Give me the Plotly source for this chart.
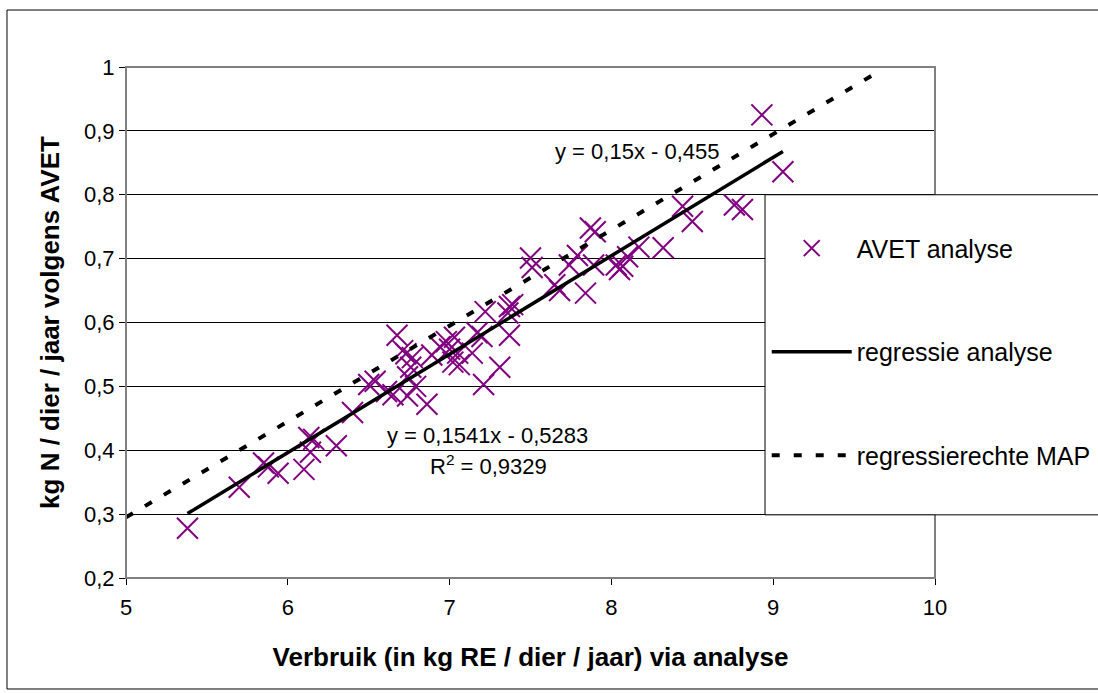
import plotly.graph_objects as go

# ---- data ----
x_avet = [5.38, 5.70, 5.85, 5.88, 5.94, 6.10, 6.13, 6.16, 6.14, 6.30, 6.40, 6.50, 6.54,
          6.61, 6.65, 6.675, 6.71, 6.73, 6.77, 6.76, 6.74, 6.79, 6.74, 6.86, 6.89, 6.94,
          6.98, 7.00, 7.03, 7.05, 7.02, 7.06, 7.14, 7.17, 7.20, 7.21, 7.22, 7.31, 7.36,
          7.37, 7.39, 7.37, 7.50, 7.51, 7.65, 7.68, 7.74, 7.79, 7.84, 7.87, 7.90, 7.89,
          8.03, 8.05, 8.07, 8.10, 8.17, 8.32, 8.44, 8.50, 8.76, 8.81, 8.93, 9.06]
y_avet = [0.278, 0.342, 0.380, 0.374, 0.364, 0.370, 0.420, 0.417, 0.397, 0.407, 0.459, 0.503, 0.508,
          0.492, 0.487, 0.580, 0.556, 0.551, 0.545, 0.530, 0.515, 0.500, 0.485, 0.472, 0.549, 0.562,
          0.570, 0.558, 0.577, 0.552, 0.538, 0.534, 0.552, 0.584, 0.578, 0.503, 0.617, 0.530, 0.615,
          0.625, 0.628, 0.580, 0.701, 0.686, 0.659, 0.650, 0.690, 0.705, 0.646, 0.748, 0.742, 0.690,
          0.690, 0.683, 0.688, 0.703, 0.718, 0.717, 0.782, 0.758, 0.784, 0.777, 0.925, 0.836]

reg_x = [5.38, 9.06]          # regressie analyse (y = 0,1541x - 0,5283)
reg_y = [0.3008, 0.8678]
map_x = [5.0, 9.61]           # regressierechte MAP (y = 0,15x - 0,455)
map_y = [0.295, 0.9865]

x_ticks = [5, 6, 7, 8, 9, 10]
y_ticks = [0.2, 0.3, 0.4, 0.5, 0.6, 0.7, 0.8, 0.9, 1.0]
y_ticktext = ["0,2", "0,3", "0,4", "0,5", "0,6", "0,7", "0,8", "0,9", "1"]

names = ["AVET analyse", "regressie analyse", "regressierechte MAP"]
eq_reg = "y = 0,1541x - 0,5283"
r2_reg = "R<sup>2</sup> = 0,9329"
eq_map = "y = 0,15x - 0,455"

FONT = "Liberation Sans, Arial, sans-serif"

fig = go.Figure()
fig.add_trace(go.Scatter(
    x=x_avet, y=y_avet, mode="markers", name=names[0], legendgroup="a",
    marker=dict(symbol="x-thin", size=21, color="#800080",
                line=dict(color="#800080", width=2)),
))
fig.add_trace(go.Scatter(
    x=reg_x, y=reg_y, mode="lines", name=names[1], legendgroup="b",
    line=dict(color="black", width=3.5),
))
fig.add_trace(go.Scatter(
    x=map_x, y=map_y, mode="lines", name=names[2], legendgroup="c",
    line=dict(color="black", width=4, dash="8px,14px"),
))

# annotations (trendline labels)
fig.add_annotation(x=7.237, y=0.4225, xref="x", yref="y", text=eq_reg, showarrow=False,
                   font=dict(family=FONT, size=22, color="black"))
fig.add_annotation(x=7.24, y=0.377, xref="x", yref="y", text=r2_reg, showarrow=False,
                   font=dict(family=FONT, size=22, color="black"))
fig.add_annotation(x=8.164, y=0.867, xref="x", yref="y", text=eq_map, showarrow=False,
                   font=dict(family=FONT, size=22, color="black"))

# outer chart border
fig.add_shape(type="rect", xref="paper", yref="paper", x0=-0.1471, x1=1.3, y0=-0.2172, y1=1.1115,
              line=dict(color="black", width=1), fillcolor="rgba(0,0,0,0)", layer="above")
# plot-area border (gray)
fig.add_shape(type="rect", xref="paper", yref="paper", x0=0, x1=1, y0=0, y1=1,
              line=dict(color="#808080", width=2), fillcolor="rgba(0,0,0,0)", layer="above")
# legend box
fig.add_shape(type="rect", xref="paper", yref="y", x0=0.7899, x1=1.3, y0=0.2989, y1=0.80,
              line=dict(color="black", width=1), fillcolor="white", layer="above")

fig.update_layout(
    width=1098, height=693,
    margin=dict(l=126, r=163, t=67, b=115, autoexpand=False),
    paper_bgcolor="white", plot_bgcolor="white",
    font=dict(family=FONT, color="black"),
    showlegend=True,
    legend=dict(x=0.792, y=0.69, xanchor="left", yanchor="top",
                bgcolor="rgba(0,0,0,0)", borderwidth=0,
                font=dict(family=FONT, size=25, color="black"),
                itemwidth=80, tracegroupgap=68),
    xaxis=dict(range=[5, 10], tickvals=x_ticks, ticks="outside", ticklen=6, tickcolor="black",
               showgrid=False, zeroline=False, showline=True, linecolor="black", linewidth=1,
               tickfont=dict(family=FONT, size=22, color="black"), ticklabelstandoff=4,
               title=dict(text="Verbruik (in kg RE / dier / jaar) via analyse",
                          font=dict(family=FONT, size=26, color="black"), standoff=28)),
    yaxis=dict(range=[0.2, 1.0], tickvals=y_ticks, ticktext=y_ticktext, ticks="outside", ticklen=6,
               tickcolor="black", showgrid=True, gridcolor="black", gridwidth=1,
               zeroline=False, showline=True, linecolor="black", linewidth=1,
               tickfont=dict(family=FONT, size=22, color="black"),
               title=dict(text="kg N / dier / jaar volgens AVET",
                          font=dict(family=FONT, size=26, color="black"), standoff=16)),
)
fig.update_xaxes(title_font_weight="bold")
fig.update_yaxes(title_font_weight="bold")

fig.write_html("out.html")
